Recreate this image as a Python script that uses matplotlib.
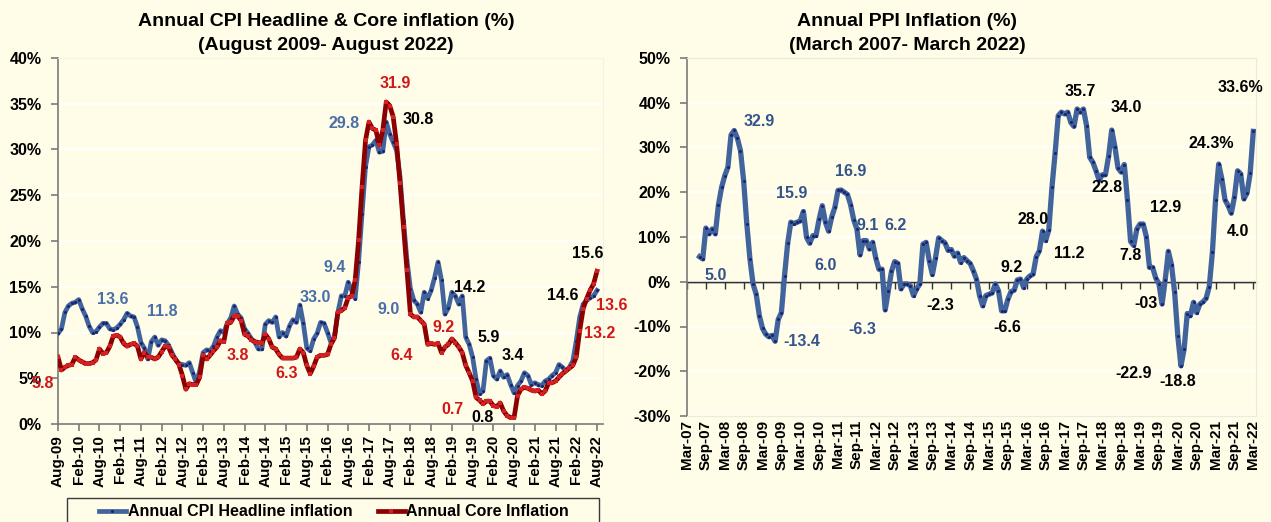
import numpy as np
import matplotlib
matplotlib.use("Agg")
import matplotlib.pyplot as plt
from matplotlib.lines import Line2D
from matplotlib.patches import Rectangle

plt.rcParams['font.family'] = ['Liberation Sans', 'DejaVu Sans']
plt.rcParams['font.weight'] = 'bold'

# ---------------- data ----------------
left_ticklabels = ['Aug-09', 'Feb-10', 'Aug-10', 'Feb-11', 'Aug-11', 'Feb-12', 'Aug-12', 'Feb-13',
                   'Aug-13', 'Feb-14', 'Aug-14', 'Feb-15', 'Aug-15', 'Feb-16', 'Aug-16', 'Feb-17',
                   'Aug-17', 'Feb-18', 'Aug-18', 'Feb-19', 'Aug-19', 'Feb-20', 'Aug-20', 'Feb-21',
                   'Aug-21', 'Feb-22', 'Aug-22']

cpi_headline = [
    9.9, 10.4, 12.2, 12.9, 13.2, 13.3, 13.6, 12.6, 11.8, 10.7,
    10.0, 10.1, 10.6, 11.0, 11.0, 10.4, 10.3, 10.5, 10.9, 11.4,
    12.1, 11.8, 11.7, 10.6, 8.9, 8.3, 7.1, 9.0, 9.5, 8.6,
    9.2, 9.1, 8.6, 7.8, 7.0, 6.6, 6.5, 6.4, 6.7, 5.6,
    4.5, 5.8, 7.8, 8.1, 8.0, 8.5, 9.5, 10.2, 10.0, 11.0,
    11.6, 12.9, 12.0, 11.6, 10.4, 9.9, 9.3, 8.9, 8.2, 8.2,
    10.9, 11.3, 11.1, 11.7, 9.5, 10.0, 9.6, 10.7, 11.4, 11.1,
    13.0, 11.0, 8.3, 8.0, 9.3, 9.9, 11.1, 11.0, 10.0, 8.9,
    9.5, 12.2, 14.0, 14.0, 15.5, 14.6, 13.7, 17.7, 23.0, 28.1,
    30.3, 30.5, 31.0, 29.7, 29.8, 33.0, 31.7, 30.8, 29.9, 27.0,
    22.2, 17.9, 14.8, 13.5, 13.1, 12.2, 14.4, 13.7, 14.6, 16.0,
    17.7, 15.7, 12.0, 12.7, 14.4, 14.0, 13.1, 14.0, 9.5, 8.7,
    7.3, 4.9, 3.3, 3.6, 6.9, 7.2, 5.3, 4.9, 5.8, 5.1,
    5.4, 4.3, 3.4, 4.2, 4.7, 5.6, 5.3, 4.3, 4.5, 4.3,
    4.2, 4.7, 4.9, 5.3, 5.6, 6.5, 6.2, 5.8, 6.2, 6.9,
    9.1, 11.7, 13.1, 13.5, 13.8, 14.0, 14.6,
]

core_inflation = [
    7.3, 5.9, 6.2, 6.4, 6.5, 7.3, 7.0, 6.8, 6.6, 6.6,
    6.7, 7.0, 8.2, 7.7, 7.8, 8.5, 9.6, 9.7, 9.5, 8.8,
    8.5, 8.7, 8.8, 8.5, 7.1, 7.8, 7.3, 7.3, 7.1, 7.3,
    7.9, 8.5, 8.4, 7.5, 7.1, 6.5, 5.3, 3.8, 4.4, 4.3,
    4.3, 5.1, 7.5, 7.1, 7.5, 8.0, 8.4, 9.1, 9.0, 11.0,
    11.1, 11.8, 11.8, 11.3, 9.8, 9.6, 9.2, 9.0, 8.9, 8.8,
    9.8, 9.3, 8.4, 8.2, 7.6, 7.2, 7.2, 7.2, 7.2, 7.3,
    8.2, 7.8, 6.4, 5.5, 6.3, 7.3, 7.5, 7.5, 7.6, 8.7,
    9.4, 12.2, 12.4, 12.7, 13.8, 14.0, 15.7, 20.1, 25.9, 31.0,
    33.0, 32.3, 32.1, 30.5, 32.1, 35.2, 34.8, 33.6, 30.6, 26.3,
    21.5, 16.8, 12.0, 11.7, 11.7, 11.3, 10.9, 8.7, 8.8, 8.7,
    8.8, 7.8, 8.4, 8.7, 9.3, 8.9, 8.4, 7.8, 6.4, 5.6,
    4.7, 2.9, 2.6, 2.2, 2.5, 2.5, 2.0, 1.9, 2.3, 1.4,
    0.9, 0.7, 0.7, 3.1, 3.8, 4.0, 3.9, 3.7, 3.6, 3.7,
    3.3, 3.6, 4.5, 4.5, 4.7, 5.1, 5.5, 5.8, 6.1, 6.4,
    7.3, 10.2, 12.6, 13.7, 14.6, 15.3, 16.7,
]

right_ticklabels = ['Mar-07', 'Sep-07', 'Mar-08', 'Sep-08', 'Mar-09', 'Sep-09', 'Mar-10', 'Sep-10',
                    'Mar-11', 'Sep-11', 'Mar-12', 'Sep-12', 'Mar-13', 'Sep-13', 'Mar-14', 'Sep-14',
                    'Mar-15', 'Sep-15', 'Mar-16', 'Sep-16', 'Mar-17', 'Sep-17', 'Mar-18', 'Sep-18',
                    'Mar-19', 'Sep-19', 'Mar-20', 'Sep-20', 'Mar-21', 'Sep-21', 'Mar-22']

ppi_start_month = 4  # months after Mar-07
ppi_inflation = [
    5.6, 5.1, 12.0, 10.7, 11.8, 10.7, 17.2, 21.1, 23.7, 25.6,
    32.8, 33.8, 32.1, 29.3, 22.6, 13.0, 5.1, -0.5, -2.8, -7.6,
    -10.4, -11.7, -12.3, -12.0, -13.3, -8.4, -6.9, 1.3, 8.6, 13.3,
    13.0, 13.3, 13.6, 15.7, 9.9, 8.6, 10.3, 10.3, 14.0, 17.0,
    13.3, 11.3, 14.5, 16.6, 20.4, 20.5, 20.0, 19.5, 17.2, 13.8,
    11.8, 6.0, 9.2, 9.2, 7.3, 8.8, 5.3, 2.8, 2.8, -6.3,
    -2.0, 2.3, 4.5, 4.1, -1.6, -0.5, -0.5, -0.9, -3.1, -1.6,
    -0.5, 8.4, 8.8, 4.7, 1.6, 5.4, 9.8, 9.2, 8.7, 7.0,
    7.2, 5.7, 6.4, 4.3, 5.4, 4.7, 4.1, 2.5, 0.6, -3.1,
    -5.4, -3.1, -2.8, -2.5, -0.5, -2.0, -6.5, -6.5, -3.9, -2.2,
    -1.9, 0.4, 0.6, -1.3, 0.6, 1.3, 1.7, 5.6, 6.9, 11.3,
    9.2, 11.6, 21.1, 28.7, 37.1, 37.9, 37.5, 37.9, 35.6, 34.7,
    38.6, 37.9, 38.6, 34.9, 27.8, 26.7, 24.8, 22.7, 23.9, 23.9,
    28.0, 33.9, 30.2, 25.4, 24.5, 26.2, 18.3, 9.0, 8.1, 11.8,
    12.9, 12.9, 10.1, 3.2, 3.2, 0.8, -0.4, -5.0, 0.4, 6.8,
    3.8, -2.4, -12.1, -18.8, -15.1, -7.1, -7.6, -4.6, -6.9, -5.0,
    -4.5, -3.7, -1.1, 6.6, 18.3, 26.3, 23.0, 18.3, 17.0, 15.3,
    18.9, 24.8, 24.1, 18.5, 19.8, 24.2, 33.6,
]

# data labels as printed on the chart (text, colour key)
left_labels = ['13.6', '11.8', '3.8', '6.3', '5.8', '33.0', '31.9', '29.8', '30.8', '9.4', '9.0',
               '6.4', '9.2', '14.2', '5.9', '3.4', '0.7', '0.8', '14.6', '15.6', '13.6', '13.2']
left_label_kind = ['b', 'b', 'r', 'r', 'r', 'b', 'r', 'b', 'k', 'b', 'b',
                   'r', 'r', 'k', 'k', 'k', 'r', 'k', 'k', 'k', 'r', 'r']
right_labels = ['5.0', '32.9', '15.9', '-13.4', '16.9', '6.0', '9.1', '6.2', '-6.3', '-2.3',
                '35.7', '34.0', '33.6%', '24.3%', '22.8', '28.0', '12.9', '4.0', '11.2', '7.8',
                '9.2', '-6.6', '-03', '-22.9', '-18.8']
right_label_kind = ['b', 'b', 'b', 'b', 'b', 'b', 'b', 'b', 'b', 'k',
                    'k', 'k', 'k', 'k', 'k', 'k', 'k', 'k', 'k', 'k',
                    'k', 'k', 'k', 'k', 'k']
legend_labels = ['Annual CPI Headline inflation', 'Annual Core Inflation']

# ---------------- layout / style ----------------
W, H = 1271, 522
BG = '#FFFDE8'
BLUE = '#41649C'
BLUE_TXT = '#4A6FA8'
BLUE_TXT2 = '#34548C'
NAVY = '#1B2470'
RED = '#8B0000'
RED_MK = '#D42020'
RED_TXT = '#D01818'

# label anchor positions (pixels in the image)
left_label_px = [(113, 299), (162, 311), (238, 356), (287, 374), (43, 383), (315, 298), (395, 83),
                 (344, 123), (418, 120), (335, 268), (389, 310), (402, 355), (444, 328), (470, 287),
                 (489, 337), (513, 355), (452, 409), (483, 418), (563, 295), (588, 253), (612, 305),
                 (600, 333)]
right_label_px = [(716, 275), (759, 122), (792, 194), (802, 342), (851, 171), (826, 265), (868, 225),
                  (896, 226), (862, 329), (940, 305), (1080, 92), (1126, 107), (1240, 88), (1211, 144),
                  (1107, 188), (1033, 220), (1166, 208), (1238, 232), (1069, 254), (1131, 256),
                  (1012, 267), (1007, 328), (1146, 303), (1134, 373), (1178, 382)]

fig = plt.figure(figsize=(W / 100, H / 100), dpi=100, facecolor=BG)

def px_axes(x0, y0, x1, y1):
    return fig.add_axes([x0 / W, 1 - y1 / H, (x1 - x0) / W, (y1 - y0) / H])

TICK_FS = 11.5
XT_FS = 11
LBL_FS = 11.5
TITLE_FS = 14

# ---------------- left panel ----------------
L_X0, L_TOP, L_X1, L_BOT = 58, 58, 603, 424
ax1 = px_axes(L_X0, L_TOP, L_X1, L_BOT)
ax1.set_facecolor(BG)
m = np.arange(len(cpi_headline))
ax1.plot(m, cpi_headline, color=BLUE, lw=3.4, solid_joinstyle='round', zorder=3,
         marker='o', ms=2.2, mfc=NAVY, mec=NAVY, mew=0)
ax1.plot(np.arange(len(core_inflation)), core_inflation, color=RED, lw=3.4, solid_joinstyle='round',
         zorder=4, marker='s', ms=2.2, mfc=RED_MK, mec=RED_MK, mew=0)
ax1.set_xlim(0, (L_X1 - L_X0) / ((597 - 58) / 156))
ax1.set_ylim(0, 40)
ax1.set_yticks(np.arange(0, 41, 5))
ax1.set_yticklabels([f'{v}%' for v in range(0, 41, 5)])
ax1.set_xticks(np.arange(0, 157, 6))
ax1.set_xticklabels(left_ticklabels, rotation=90)
ax1.grid(axis='y', color='white', lw=1.2)
ax1.set_axisbelow(True)
for s in ['top', 'right']:
    ax1.spines[s].set_color('#F4F2E0')
for s in ['left', 'bottom']:
    ax1.spines[s].set_color('#7A7A7A')
    ax1.spines[s].set_linewidth(1.2)
ax1.tick_params(axis='both', direction='out', length=5, color='#7A7A7A', width=1.2)
ax1.tick_params(axis='y', labelsize=TICK_FS, pad=7)
ax1.tick_params(axis='x', labelsize=XT_FS, pad=3)

lcol = {'b': BLUE_TXT, 'r': RED_TXT, 'k': 'black'}
for txt, kind, (px, py) in zip(left_labels, left_label_kind, left_label_px):
    fig.text(px / W, 1 - py / H, txt, color=lcol[kind], fontsize=LBL_FS, fontweight='bold',
             ha='center', va='center', zorder=10)

fig.text(326 / W, 1 - 26.5 / H, 'Annual CPI Headline & Core inflation (%)', ha='center',
         va='baseline', fontsize=TITLE_FS, fontweight='bold')
fig.text(326 / W, 1 - 50.5 / H, '(August 2009- August 2022)', ha='center', va='baseline',
         fontsize=TITLE_FS, fontweight='bold')

# legend (frame drawn as a separate box, cut by the bottom edge as in the original)
fig.patches.append(Rectangle((67 / W, 1 - 532 / H), (599 - 67) / W, 34 / H, transform=fig.transFigure,
                             facecolor=BG, edgecolor='#3A3A3A', lw=1.0, zorder=1))
handles = [Line2D([], [], color=BLUE, lw=3.4, marker='o', ms=2.2, mfc=NAVY, mec=NAVY, mew=0),
           Line2D([], [], color=RED, lw=3.4, marker='s', ms=2.2, mfc=RED_MK, mec=RED_MK, mew=0)]
leg = fig.legend(handles, legend_labels, loc='center', bbox_to_anchor=(334 / W, 1 - 512 / H),
                 ncol=2, frameon=False, numpoints=1, handlelength=1.7, handletextpad=0.1,
                 borderpad=0.0, borderaxespad=0.0, columnspacing=1.6,
                 prop={'size': 11.5, 'weight': 'bold'})
leg.set_zorder(5)

# ---------------- right panel ----------------
R_X0, R_TOP, R_X1, R_BOT = 687, 58, 1256, 416
ax2 = px_axes(R_X0, R_TOP, R_X1, R_BOT)
ax2.set_facecolor(BG)
k = np.arange(ppi_start_month, ppi_start_month + len(ppi_inflation))
ax2.plot(k, ppi_inflation, color=BLUE, lw=3.8, solid_joinstyle='round', zorder=3,
         marker='o', ms=2.2, mfc=NAVY, mec=NAVY, mew=0)
ax2.set_xlim(0, (R_X1 - R_X0) / ((1253.3 - 687) / 180))
ax2.set_ylim(-30, 50)
ax2.set_yticks(np.arange(-30, 51, 10))
ax2.set_yticklabels([f'{v}%' for v in range(-30, 51, 10)])
ax2.set_xticks(np.arange(0, 181, 6))
ax2.set_xticklabels(right_ticklabels, rotation=90)
ax2.grid(axis='y', color='white', lw=1.2)
ax2.set_axisbelow(True)
for s in ['top', 'right', 'bottom']:
    ax2.spines[s].set_color('#ECEADA')
ax2.spines['left'].set_color('#7A7A7A')
ax2.spines['left'].set_linewidth(1.2)
ax2.tick_params(axis='y', direction='out', length=5, color='#7A7A7A', width=1.2, labelsize=TICK_FS, pad=7)
ax2.tick_params(axis='x', length=0, labelsize=XT_FS, pad=3)
ax2.axhline(0, color='#333333', lw=1.0, zorder=2)
sec = ax2.secondary_xaxis(30 / 80)
sec.set_xticks(np.arange(0, 181, 6))
sec.tick_params(axis='x', direction='out', length=5, color='#333333', width=1.0, labelbottom=False)
sec.spines['bottom'].set_color('#333333')
sec.spines['bottom'].set_linewidth(1.0)

rcol = {'b': BLUE_TXT2, 'k': 'black'}
for txt, kind, (px, py) in zip(right_labels, right_label_kind, right_label_px):
    fig.text(px / W, 1 - py / H, txt, color=rcol[kind], fontsize=LBL_FS, fontweight='bold',
             ha='center', va='center', zorder=10)

fig.text(907 / W, 1 - 26.5 / H, 'Annual PPI Inflation (%)', ha='center', va='baseline',
         fontsize=TITLE_FS, fontweight='bold')
fig.text(907 / W, 1 - 50.5 / H, '(March 2007- March 2022)', ha='center', va='baseline',
         fontsize=TITLE_FS, fontweight='bold')

fig.savefig('out.png', dpi=100, facecolor=BG)
